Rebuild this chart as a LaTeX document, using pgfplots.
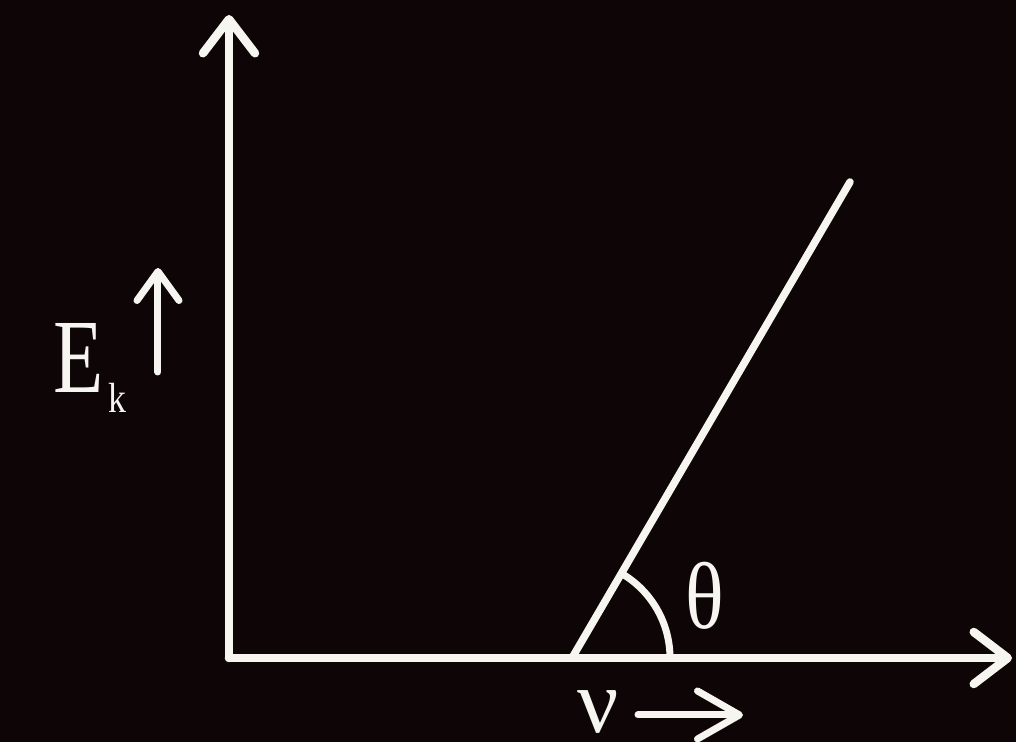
\documentclass[border=0pt]{standalone}
\usepackage{pgfplots}
\pgfplotsset{compat=1.18}
\usepackage{graphicx}
\usepackage{fontspec}
\setmainfont{Liberation Serif}
\usetikzlibrary{arrows.meta}
\definecolor{bg}{RGB}{14,6,6}
\definecolor{fg}{RGB}{246,245,240}

\begin{document}
\begin{tikzpicture}
% dark backdrop (1 unit = 0.1 mm)
\fill[bg] (-22.9mm,-8.4mm) rectangle (78.7mm,65.8mm);
\begin{axis}[
  anchor=origin, at={(0,0)},
  x=0.1mm, y=0.1mm,
  xmin=0, xmax=783, ymin=0, ymax=643,
  axis lines=left,
  xtick=\empty, ytick=\empty,
  clip=false,
  axis line style={fg, line width=0.85mm, line cap=round, line join=round,
    -{Straight Barb[length=3.4mm, width=5.2mm, line cap=round, line join=round]}},
]
  % E_k grows linearly with frequency above the threshold
  \addplot[fg, line width=0.75mm, line cap=round] coordinates {(343,0) (621,476)};
  % angle marker at the threshold frequency
  \draw[fg, line width=0.7mm] (axis cs:441,0) arc[start angle=0, end angle=59.7, radius=9.8mm];
  \node[fg, anchor=center, inner sep=0] at (axis cs:476,62)
     {\fontsize{27}{27}\selectfont\scalebox{0.85}[1]{θ}};
  % y label: E_k with arrow
  \node[fg, anchor=base west, inner sep=0] at (axis cs:-176,265)
     {\fontsize{30}{30}\selectfont\scalebox{0.78}[1]{E}};
  \node[fg, anchor=base west, inner sep=0] at (axis cs:-121,245)
     {\fontsize{12}{12}\selectfont\scalebox{0.85}[1]{k}};
  \draw[fg, line width=0.7mm, line cap=round,
        -{Straight Barb[length=2.9mm, width=4.2mm, line cap=round, line join=round]}]
        (axis cs:-71,286) -- (axis cs:-71,390);
  % x label: nu with arrow
  \node[fg, anchor=south west, inner sep=0] at (axis cs:348,-76)
     {\fontsize{26}{26}\selectfont{ν}};
  \draw[fg, line width=0.7mm, line cap=round,
        -{Straight Barb[length=4.2mm, width=4.8mm, line cap=round, line join=round]}]
        (axis cs:409,-57) -- (axis cs:514,-57);
\end{axis}
\pgfresetboundingbox
\path[use as bounding box] (-22.9mm,-8.4mm) rectangle (78.7mm,65.8mm);
\end{tikzpicture}
\end{document}
